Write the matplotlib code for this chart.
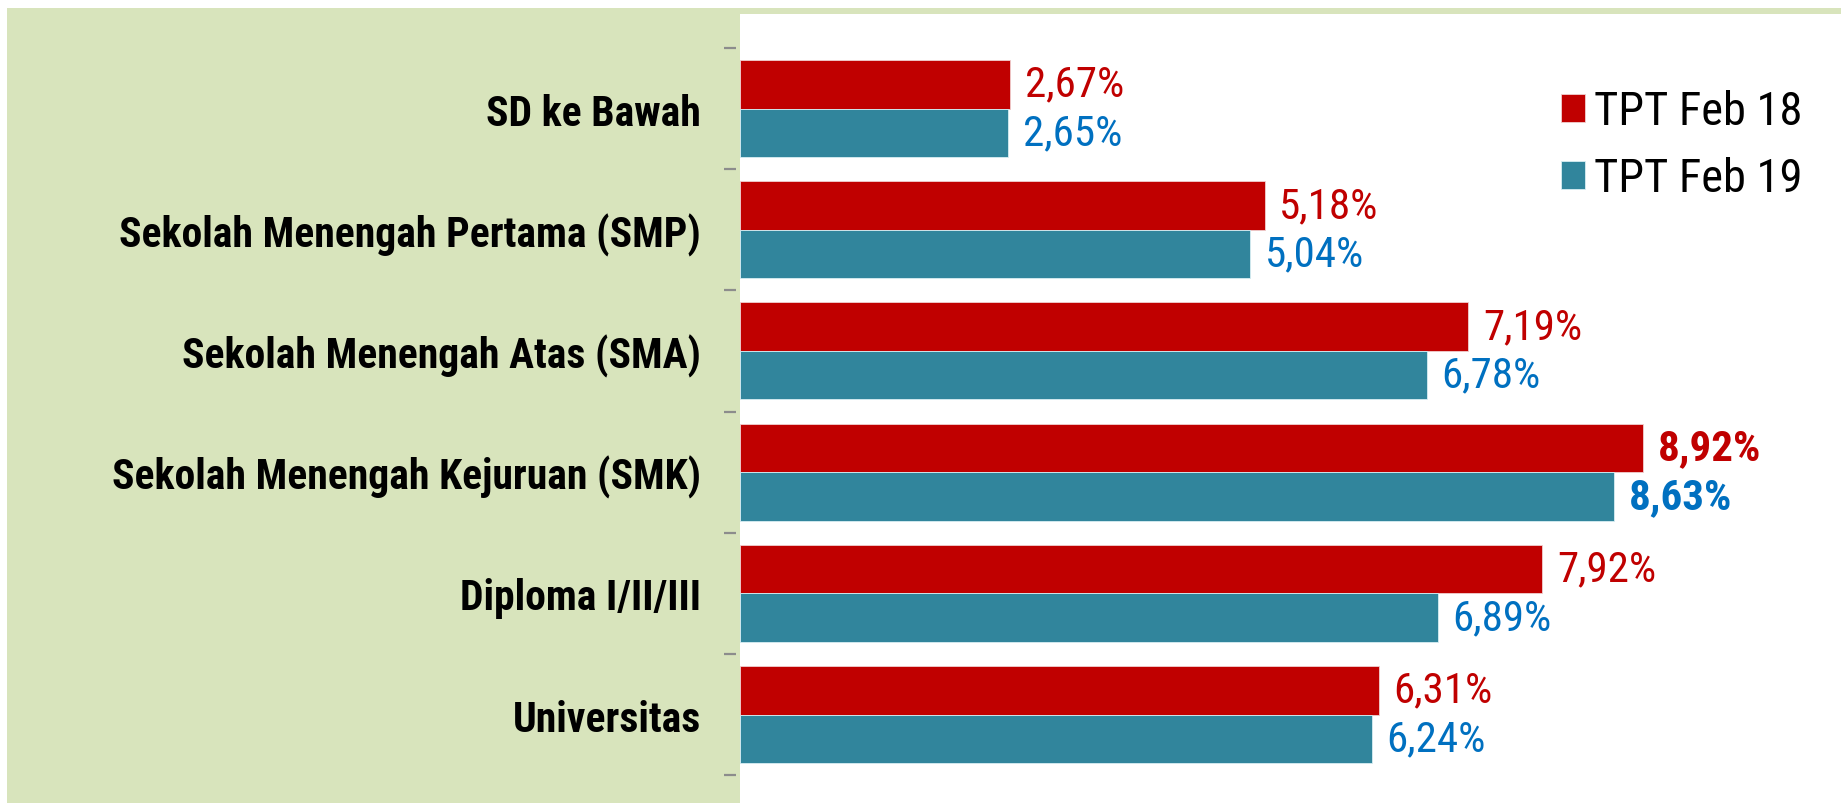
import matplotlib
matplotlib.use("Agg")
import matplotlib.pyplot as plt
from matplotlib.patches import Rectangle
from matplotlib import font_manager

# Data: open unemployment rate (TPT) by education level
categories = [
    "SD ke Bawah",
    "Sekolah Menengah Pertama (SMP)",
    "Sekolah Menengah Atas (SMA)",
    "Sekolah Menengah Kejuruan (SMK)",
    "Diploma I/II/III",
    "Universitas",
]
tpt_feb18 = [2.67, 5.18, 7.19, 8.92, 7.92, 6.31]
tpt_feb19 = [2.65, 5.04, 6.78, 8.63, 6.89, 6.24]
series_names = ["TPT Feb 18", "TPT Feb 19"]
highlight = "Sekolah Menengah Kejuruan (SMK)"

RED = "#C00000"
TEAL = "#31859C"
BLUE_TXT = "#0070C0"
GREEN_BG = "#D8E4BC"

# pick a narrow sans face, falling back to a regular one
installed = {f.name for f in font_manager.fontManager.ttflist}
candidates = ["Arial Narrow", "Liberation Sans Narrow", "Roboto Condensed",
              "Archivo Narrow", "PT Sans Narrow", "Pragati Narrow",
              "Liberation Sans"]
narrow = next(c for c in candidates if c in installed)
plt.rcParams["font.family"] = [narrow, "DejaVu Sans"]

W, H, DPI = 1841, 804, 100
fig = plt.figure(figsize=(W / DPI, H / DPI), dpi=DPI)
fig.patch.set_facecolor("white")

# green panel behind the category labels and thin band over the plot area
fig.patches.append(Rectangle((7 / W, 0), (740 - 7) / W, (H - 9) / H,
                             transform=fig.transFigure, facecolor=GREEN_BG,
                             edgecolor="none", zorder=-10))
fig.patches.append(Rectangle((740 / W, (H - 15) / H), (W - 740) / W, 6 / H,
                             transform=fig.transFigure, facecolor=GREEN_BG,
                             edgecolor="none", zorder=-10))

ax = fig.add_axes([740 / W, 0, (W - 740) / W, (H - 15) / H])
ax.set_facecolor("white")
ax.spines["left"].set_position(("outward", 3))
for s in ax.spines.values():
    s.set_visible(False)

y = list(range(len(categories)))
h = 0.4
y18 = [v - h / 2 for v in y]
y19 = [v + h / 2 for v in y]
b18 = ax.barh(y18, tpt_feb18, height=h, color=RED, edgecolor="#F0D0D0",
              linewidth=0.6, label=series_names[0])
b19 = ax.barh(y19, tpt_feb19, height=h, color=TEAL, edgecolor="#D8EEF3",
              linewidth=0.6, label=series_names[1])

def fmt(v):
    return f"{v:.2f}%".replace(".", ",")

for bars, vals, col in ((b18, tpt_feb18, RED), (b19, tpt_feb19, BLUE_TXT)):
    for rect, v, cat in zip(bars, vals, categories):
        ax.annotate(fmt(v), xy=(v, rect.get_y() + rect.get_height() / 2),
                    xytext=(10.5, 0), textcoords="offset points",
                    ha="left", va="center", fontsize=31, color=col,
                    fontweight="bold" if cat == highlight else "normal")

ax.set_xlim(0, 10.87)
ax.set_ylim(5.73, -0.78)
ax.set_xticks([])

ax.set_yticks(y)
ax.set_yticklabels(categories, fontsize=30, fontweight="bold")
ax.tick_params(axis="y", which="major", length=0, pad=25)
ax.set_yticks([v - 0.5 for v in range(len(categories) + 1)], minor=True)
ax.tick_params(axis="y", which="minor", length=8.5, width=1.6,
               color="#8C8C8C", direction="out")

leg = ax.legend(loc="upper left", bbox_to_anchor=(1561 / W, 1 - 90 / H),
                bbox_transform=fig.transFigure, frameon=False,
                fontsize=33.5, handlelength=0.52, handleheight=0.55,
                handletextpad=0.2, labelspacing=0.5, borderpad=0,
                borderaxespad=0)

fig.savefig("out.png", dpi=DPI)
